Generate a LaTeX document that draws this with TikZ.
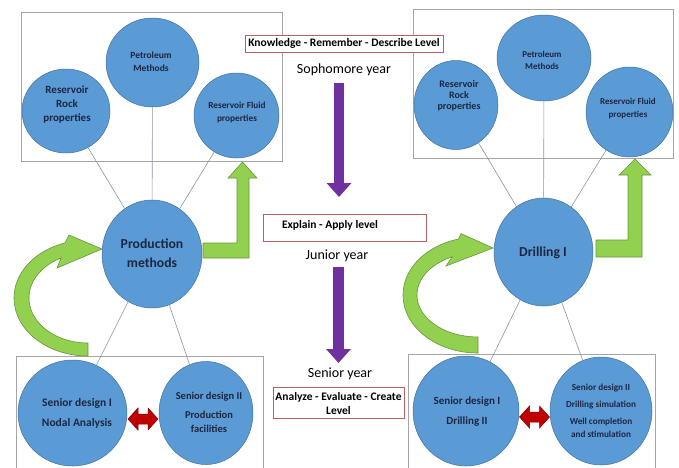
\documentclass[tikz,border=0pt]{standalone}
\usepackage{fontspec}
\setmainfont{Carlito}
\usetikzlibrary{shapes.geometric,arrows.meta}
\definecolor{cfill}{RGB}{91,155,213}
\definecolor{cedge}{RGB}{65,113,156}
\definecolor{ctextc}{RGB}{28,38,66}
\definecolor{gfill}{RGB}{146,208,80}
\definecolor{gedge}{RGB}{104,150,60}
\definecolor{purp}{RGB}{112,48,160}
\definecolor{rfill}{RGB}{192,0,0}
\definecolor{redge}{RGB}{120,0,0}
\definecolor{lbox}{RGB}{190,95,95}
\definecolor{pbox}{RGB}{165,165,165}
\definecolor{connc}{RGB}{140,150,160}
\newcommand{\fs}[2]{\fontsize{#1}{#2}\selectfont}
\tikzset{
  blob/.style={ellipse,fill=cfill,draw=cedge,line width=0.5pt,inner sep=0pt},
  ctx/.style={align=center,inner sep=0pt,text=ctextc},
  panel/.style={draw=pbox,line width=0.8pt},
  lvl/.style={draw=lbox,line width=0.6pt,inner sep=0pt,fill=white},
  connline/.style={draw=connc,line width=0.6pt},
  garrow/.style={fill=gfill,draw=gedge,line width=0.6pt,line join=miter},
  parrow/.style={draw=purp,line width=10.5pt,-{Triangle[width=24pt,length=14pt]}},
  dbl/.pic={\draw[fill=rfill,draw=redge,line width=0.5pt] (-15,0) -- (-5,-11) -- (-5,-5) -- (5,-5) -- (5,-11) -- (15,0) -- (5,11) -- (5,5) -- (-5,5) -- (-5,11) -- cycle;}
}
\begin{document}
\begin{tikzpicture}[x=1pt,y=-1pt]
\fill[white] (0,0) rectangle (679,467);
\useasboundingbox (0,0) rectangle (679,467);

% panels
\draw[panel] (21,12) rectangle (282,161);
\draw[panel] (16,356) rectangle (263,480);
\draw[panel] (413,9) rectangle (673,158);
\draw[panel] (408,354) rectangle (655,480);

% circles (left)
\node[blob,minimum width=88pt,minimum height=84pt] (rockL) at (66,111) {};
\node[blob,minimum width=93pt,minimum height=89pt] (petL) at (152.5,62.5) {};
\node[blob,minimum width=85pt,minimum height=85pt] (fluidL) at (236.5,115.5) {};
\node[blob,minimum width=100pt,minimum height=108pt] (prodL) at (152,254) {};
\node[blob,minimum width=109pt,minimum height=106pt] (sd1L) at (72.5,413) {};
\node[blob,minimum width=94pt,minimum height=103pt] (sd2L) at (206,413) {};
% circles (right)
\node[blob,minimum width=84pt,minimum height=89pt] (rockR) at (456,105) {};
\node[blob,minimum width=94pt,minimum height=86pt] (petR) at (544,58) {};
\node[blob,minimum width=87pt,minimum height=90pt] (fluidR) at (629.5,112) {};
\node[blob,minimum width=99pt,minimum height=108pt] (drill) at (543.5,252) {};
\node[blob,minimum width=106pt,minimum height=110pt] (sd1R) at (466,411) {};
\node[blob,minimum width=102pt,minimum height=108pt] (sd2R) at (601,411) {};

% connectors
\foreach \a/\b in {rockL/prodL,petL/prodL,fluidL/prodL,prodL/sd1L,prodL/sd2L,rockR/drill,petR/drill,fluidR/drill,drill/sd1R,drill/sd2R}
  \draw[connline] (\a) -- (\b);

% circle texts
\node[ctx,align=center,font=\bfseries\fs{11}{14}] (rockLt) at (67,104) {Reservoir\\Rock\\properties};
\node[ctx,align=center,font=\bfseries\fs{9.5}{13}] (petLt) at (151,62) {Petroleum\\Methods};
\node[ctx,align=center,font=\bfseries\fs{9.3}{13}] (fluidLt) at (237,112) {Reservoir Fluid\\properties};
\node[ctx,align=center,font=\bfseries\fs{13.7}{19}] (prodLt) at (152,253.5) {Production\\methods};
\node[ctx,align=center,font=\bfseries\fs{11.5}{20}] (sd1Lt) at (77,413) {Senior design I\\Nodal Analysis};
\node[ctx,align=center,font=\bfseries\fs{10.5}{14}] (sd2Lt) at (209,412) {Senior design II\\[5pt]Production\\facilities};
\node[ctx,align=center,font=\bfseries\fs{10}{11}] (rockRt) at (459,96) {Reservoir\\Rock\\properties};
\node[ctx,align=center,font=\bfseries\fs{9}{12}] (petRt) at (542,60) {Petroleum\\Methods};
\node[ctx,align=center,font=\bfseries\fs{9}{13}] (fluidRt) at (628,108.5) {Reservoir Fluid\\properties};
\node[ctx,align=center,font=\bfseries\fs{13.7}{19}] (drillt) at (543,253) {Drilling I};
\node[ctx,align=center,font=\bfseries\fs{11}{20}] (sd1Rt) at (467,412) {Senior design I\\Drilling II};
\node[ctx,align=center,font=\bfseries\fs{9.2}{13}] (sd2Rt) at (601,410.5) {Senior design II\\[4pt]Drilling simulation\\[4pt]Well completion\\and stimulation};

% green L arrows
\filldraw[garrow] (203,243) -- (237,243) -- (237,178) -- (228,178) -- (242.5,162) -- (257,178) -- (249,178) -- (249,258) -- (203,258) -- cycle;
\filldraw[garrow] (596,240) -- (628,240) -- (628,175) -- (619,175) -- (635,159) -- (651,175) -- (642,175) -- (642,257) -- (596,257) -- cycle;

% green curved arrows
\filldraw[garrow] (88,356) arc[start angle=90, end angle=252, x radius=74, y radius=58] -- (69,235) -- (102,249) -- (57,268) -- (61.2,257.9) arc[start angle=243, end angle=90, x radius=59, y radius=45] -- cycle;
\filldraw[garrow] (478,353) arc[start angle=90, end angle=255, x radius=75, y radius=58] -- (461,233.6) -- (493,248) -- (446,266) -- (452.2,256.9) arc[start angle=245, end angle=90, x radius=61, y radius=42] -- cycle;

% red double arrows
\pic at (143,419) {dbl};
\pic at (534.5,417) {dbl};

% level labels
\node[lvl,minimum width=198pt,minimum height=17pt,font=\bfseries\fs{11.5}{14}] (kbox) at (344,43.5) {Knowledge - Remember - Describe Level};
\node[inner sep=0pt,font=\fs{14}{17}] (soph) at (344,70) {Sophomore year};
\node[lvl,minimum width=163pt,minimum height=27pt] (ebox) at (344.5,227.5) {};
\node[inner sep=0pt,font=\bfseries\fs{11.5}{14}] (etext) at (330,225) {Explain - Apply level};
\node[inner sep=0pt,font=\fs{14}{17}] (junior) at (337,256) {Junior year};
\node[inner sep=0pt,font=\fs{14}{17}] (senior) at (340,374) {Senior year};
\node[lvl,minimum width=131pt,minimum height=31pt] (abox) at (338.5,402.5) {};
\node[inner sep=0pt,align=center,font=\bfseries\fs{11.5}{14}] (atext) at (338.5,403) {Analyze - Evaluate - Create\\Level};

% purple arrows
\coordinate (p1a) at (339,83);
\coordinate (p1b) at (339,197);
\coordinate (p2a) at (338.5,267);
\coordinate (p2b) at (338.5,363);
\draw[parrow] (p1a) -- (p1b);
\draw[parrow] (p2a) -- (p2b);
\end{tikzpicture}
\end{document}
